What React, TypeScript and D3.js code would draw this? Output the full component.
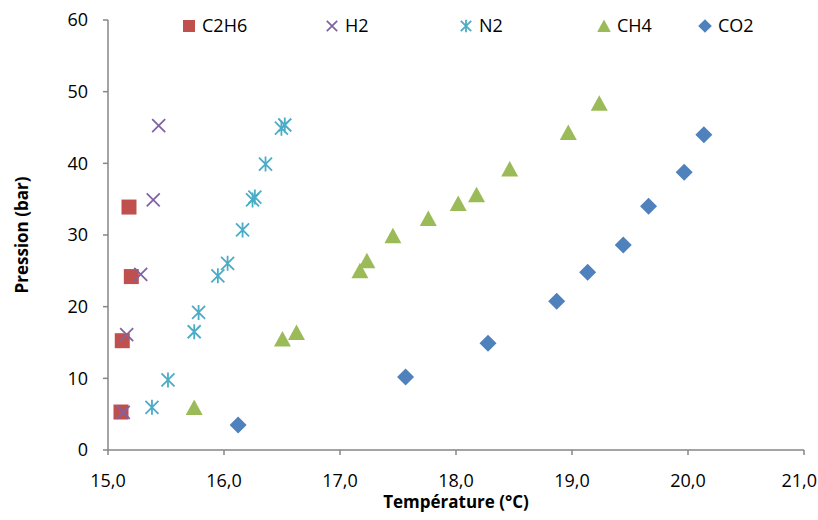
import React from "react";
import * as d3 from "d3";

const c2h6X = [15.181, 15.201, 15.123, 15.112];
const c2h6Y = [33.9, 24.2, 15.25, 5.3];
const h2X = [15.437, 15.39, 15.282, 15.161, 15.132];
const h2Y = [45.25, 34.9, 24.5, 16.1, 5.26];
const n2X = [15.379, 15.517, 15.743, 15.781, 15.947, 16.031, 16.16, 16.246, 16.266, 16.358, 16.495, 16.524];
const n2Y = [5.96, 9.77, 16.5, 19.2, 24.3, 26.05, 30.7, 34.9, 35.3, 39.9, 44.9, 45.35];
const ch4X = [15.743, 16.504, 16.625, 17.172, 17.232, 17.456, 17.761, 18.019, 18.177, 18.463, 18.968, 19.235];
const ch4Y = [5.93, 15.5, 16.4, 25.0, 26.4, 29.9, 32.3, 34.4, 35.6, 39.2, 44.3, 48.4];
const co2X = [16.122, 17.565, 18.276, 18.868, 19.135, 19.442, 19.66, 19.967, 20.137];
const co2Y = [3.5, 10.2, 14.9, 20.75, 24.8, 28.6, 34.0, 38.75, 44.0];

const xTicks = [15, 16, 17, 18, 19, 20, 21];
const yTicks = [0, 10, 20, 30, 40, 50, 60];

const seriesNames = ["C2H6", "H2", "N2", "CH4", "CO2"];
const colors = ["#C0504D", "#8064A2", "#4BACC6", "#9BBB59", "#4F81BD"];
const shapes = ["square", "x", "star", "triangle", "diamond"];
const seriesX = [c2h6X, h2X, n2X, ch4X, co2X];
const seriesY = [c2h6Y, h2Y, n2Y, ch4Y, co2Y];
const legendX = [189, 332, 466, 604, 705];

const W = 818, H = 520;
const x = d3.scaleLinear().domain([15, 21]).range([108, 804]);
const y = d3.scaleLinear().domain([0, 60]).range([450, 20]);
const font = "'Open Sans', 'Liberation Sans', Arial, sans-serif";

function Marker({ shape, cx, cy, color, s = 1 }: { shape: string; cx: number; cy: number; color: string; s?: number }) {
  if (shape === "square") {
    const h = 7.5 * s;
    return <rect x={cx - h} y={cy - h} width={2 * h} height={2 * h} fill={color} />;
  }
  if (shape === "x") {
    const r = 6.5 * s;
    return (
      <path d={`M${cx - r},${cy - r}L${cx + r},${cy + r}M${cx - r},${cy + r}L${cx + r},${cy - r}`} stroke={color} strokeWidth={1.8} fill="none" />
    );
  }
  if (shape === "star") {
    const r = 6.5 * s;
    return (
      <path d={`M${cx - r},${cy - r}L${cx + r},${cy + r}M${cx - r},${cy + r}L${cx + r},${cy - r}M${cx},${cy - r - 1}L${cx},${cy + r + 1}`} stroke={color} strokeWidth={1.8} fill="none" />
    );
  }
  if (shape === "triangle") {
    return <path d={`M${cx},${cy - 8 * s}L${cx + 8.5 * s},${cy + 7.5 * s}L${cx - 8.5 * s},${cy + 7.5 * s}Z`} fill={color} />;
  }
  const r = 8.5 * s;
  return <path d={`M${cx},${cy - r}L${cx + r},${cy}L${cx},${cy + r}L${cx - r},${cy}Z`} fill={color} />;
}

export default function App() {
  const axisColor = "#868686";
  return (
    <svg width={W} height={H} style={{ position: "absolute", left: 0, top: 0, background: "#fff" }}>
      <line x1={x(15)} x2={x(21)} y1={y(0)} y2={y(0)} stroke={axisColor} strokeWidth={1.5} />
      <line x1={x(15)} x2={x(15)} y1={y(0)} y2={y(60)} stroke={axisColor} strokeWidth={1.5} />
      {yTicks.map((t) => (
        <g key={"y" + t}>
          <line x1={x(15) - 5} x2={x(15)} y1={y(t)} y2={y(t)} stroke={axisColor} strokeWidth={1.5} />
          <text x={x(15) - 20} y={y(t)} dy="0.36em" textAnchor="end" fontFamily={font} fontSize={18} fill="#000">{t}</text>
        </g>
      ))}
      {xTicks.map((t, i) => {
        const last = i === xTicks.length - 1;
        return (
          <g key={"x" + t}>
            <line x1={x(t)} x2={x(t)} y1={y(0)} y2={y(0) + 5} stroke={axisColor} strokeWidth={1.5} />
            <text x={last ? W - 1 : x(t)} y={487} textAnchor={last ? "end" : "middle"} fontFamily={font} fontSize={18} fill="#000">{d3.format(".1f")(t).replace(".", ",")}</text>
          </g>
        );
      })}
      <text x={456} y={508} textAnchor="middle" fontFamily={font} fontSize={17} fontWeight="bold">Température (°C)</text>
      <text transform={`translate(28,235) rotate(-90)`} textAnchor="middle" fontFamily={font} fontSize={17} fontWeight="bold">Pression (bar)</text>
      {seriesX.map((xs, si) =>
        xs.map((v, i) => (
          <Marker key={si + "-" + i} shape={shapes[si]} cx={x(v)} cy={y(seriesY[si][i])} color={colors[si]} />
        ))
      )}
      {seriesNames.map((n, i) => (
        <g key={"lg" + n}>
          <Marker shape={shapes[i]} cx={legendX[i]} cy={26} color={colors[i]} s={0.8} />
          <text x={legendX[i] + 13} y={26} dy="0.36em" fontFamily={font} fontSize={18}>{n}</text>
        </g>
      ))}
    </svg>
  );
}
